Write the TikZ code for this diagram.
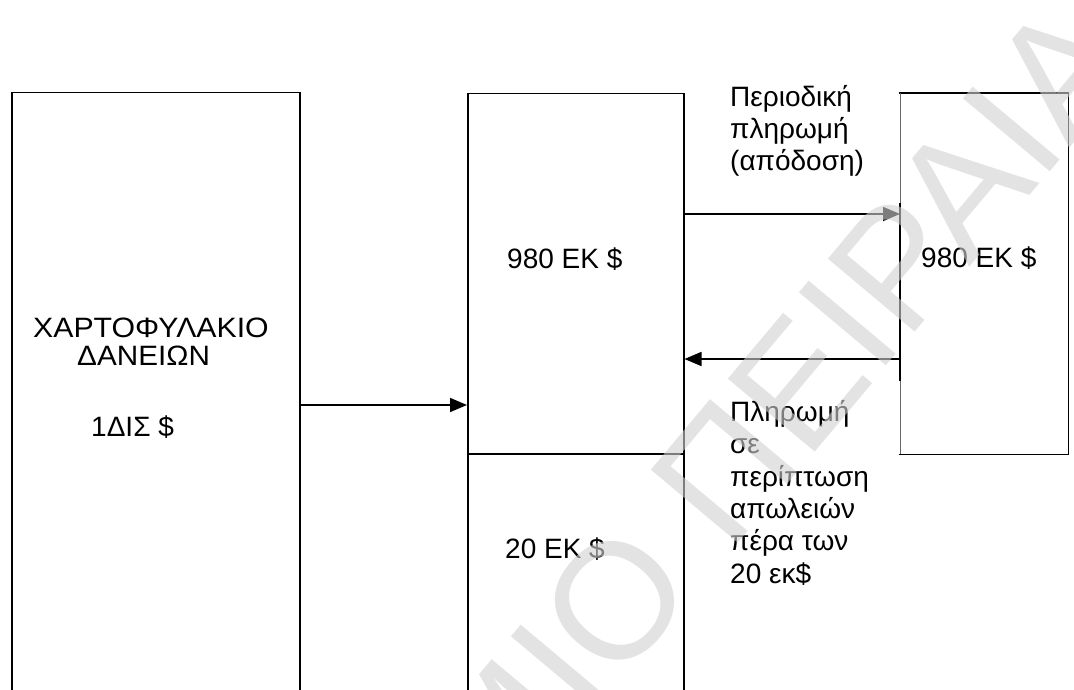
\documentclass[tikz,border=0pt]{standalone}
\usepackage{fontspec}
\setmainfont{Liberation Sans}
\usetikzlibrary{arrows.meta}
\definecolor{wm}{gray}{0.82}
\begin{document}
\begin{tikzpicture}[x=1pt,y=-1pt,
  box/.style={draw=black,line width=1.5pt,rectangle,inner sep=0pt,anchor=north west},
  nobox/.style={rectangle,inner sep=0pt,anchor=north west},
  edge/.style={draw=black,line width=1.5pt},
  lbl/.style={inner sep=0pt,anchor=base west,font=\fontsize{28}{32.3}\selectfont},
  multi/.style={lbl,align=left},
  arr/.style={line width=1.6pt,-{Triangle[length=17pt,width=14pt]}},
  wmark/.style={inner sep=0pt,text=wm,text opacity=0.6,font=\fontsize{165}{165}\selectfont,rotate=50}]
\useasboundingbox (0,0) rectangle (1074,690);
\clip (0,0) rectangle (1074,690);
% boxes
\node[box,minimum width=288pt,minimum height=640pt] (loans) at (11,92) {};
\node[box,minimum width=216pt,minimum height=360pt] (senior) at (467,93) {};
\node[box,minimum width=216pt,minimum height=280pt] (junior) at (467,453) {};
\node[nobox,minimum width=168pt,minimum height=361pt] (inv) at (900,93) {};
\draw[edge,line cap=rect] (inv.north west) -- (inv.north east) -- (inv.south east) -- (inv.south west);
\draw[draw=black!60,line width=0.8pt] (inv.south west) -- (inv.north west);
% texts
\node[lbl] (t1) at (33,337) {\scalebox{1.08}[1]{ΧΑΡΤΟΦΥΛΑΚΙΟ}};
\node[lbl] (t2) at (77,365) {\scalebox{1.06}[1]{ΔΑΝΕΙΩΝ}};
\node[lbl] (t3) at (91,436) {1ΔΙΣ \$};
\node[lbl] (s1) at (507,268) {980 ΕΚ \$};
\node[lbl] (j1) at (505,558) {20 ΕΚ \$};
\node[lbl] (i1) at (921,267) {980 ΕΚ \$};
\node[multi] (pay) at (730,171) {Περιοδική\\πληρωμή\\(απόδοση)};
\node[multi] (loss) at (730,583) {Πληρωμή\\σε\\περίπτωση\\απωλειών\\πέρα των\\20 εκ\$};
% connectors
\coordinate (y1) at (0,405);
\coordinate (y2) at (0,214);
\coordinate (y3) at (0,359);
\coordinate (ya) at (0,203);
\coordinate (yb) at (0,381);
\draw[edge] (inv.west |- ya) -- (inv.west |- yb);
\draw[arr] (loans.east |- y1) -- (senior.west |- y1);
\draw[arr] (senior.east |- y2) -- (inv.west |- y2);
\draw[arr] (inv.west |- y3) -- (senior.east |- y3);
% watermark
\coordinate (wp) at (588,722);
\node[wmark,anchor=base east] (wmA) at (wp) {ΠΑΝΕΠΙΣΤΗΜ};
\node[wmark,anchor=base west] (wmB) at (wp) {ΙΟ ΠΕΙΡΑΙΑ};
\end{tikzpicture}
\end{document}
